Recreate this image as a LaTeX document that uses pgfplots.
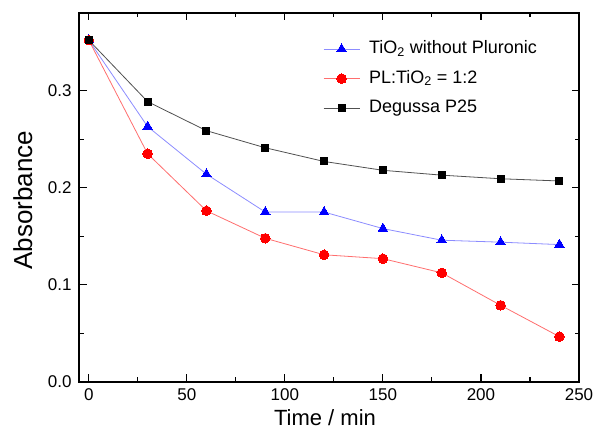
\documentclass[border=0pt]{standalone}
\usepackage{pgfplots}
\pgfplotsset{compat=1.18}
\usepackage{fontspec}
\setmainfont{Liberation Sans}
\definecolor{bluel}{RGB}{140,140,255}
\definecolor{bluem}{RGB}{0,0,255}
\definecolor{redl}{RGB}{255,110,110}
\definecolor{redm}{RGB}{255,0,0}
\definecolor{grayl}{RGB}{80,80,80}
\begin{document}
\begin{tikzpicture}
\begin{axis}[name=ax,
  scale only axis, width=500pt, height=369pt,
  xmin=-5, xmax=250, ymin=0, ymax=0.38,
  xtick={0,50,100,150,200,250},
  ytick={0,0.1,0.2,0.3},
  minor x tick num=1, minor y tick num=1,
  tick align=inside,
  major tick length=7.5pt, minor tick length=4.5pt,
  axis line style={line width=1.3pt},
  every tick/.style={line width=1.1pt, black},
  /pgf/number format/assume math mode=true,
  yticklabel style={/pgf/number format/fixed, /pgf/number format/fixed zerofill, /pgf/number format/precision=1, xshift=-4pt},
  xticklabel style={yshift=-3pt},
  tick label style={font=\fontsize{17}{17}\selectfont},
  scaled y ticks=false,
  xlabel={Time / min}, ylabel={Absorbance},
  every axis x label/.style={at={(axis description cs:0.492,-0.119)}, anchor=base, font=\fontsize{22}{22}\selectfont},
  every axis y label/.style={at={(axis description cs:-0.094,0.493)}, rotate=90, anchor=base, font=\fontsize{26}{26}\selectfont},
  legend cell align=left,
  legend image code/.code={\draw[mark repeat=2,mark phase=2] plot coordinates {(0pt,0pt)(18pt,0pt)(36pt,0pt)};},
  legend style={at={(rel axis cs:0.488,0.931)}, anchor=north west, draw=none, fill=none, inner sep=0pt,
    font=\fontsize{18}{18}\selectfont, column sep=7pt, row sep=8.5pt,
    nodes={inner sep=2pt, text height=13pt, text depth=4pt}},
]
\addplot[color=bluel, line width=0.8pt, mark=triangle*, mark size=5.5pt, mark options={fill=bluem, draw=bluem, line width=0pt}] coordinates {
(0,0.352) (30,0.263) (60,0.214) (90,0.175) (120,0.175) (150,0.158) (180,0.146) (210,0.144) (240,0.1415)};
\addlegendentry{TiO\textsubscript{2} without Pluronic}
\addplot[color=redl, line width=0.8pt, mark=*, mark size=4.8pt, mark options={fill=redm, draw=redm, line width=0pt}] coordinates {
(0,0.352) (30,0.235) (60,0.1763) (90,0.148) (120,0.131) (150,0.127) (180,0.1124) (210,0.079) (240,0.0467)};
\addlegendentry{PL:TiO\textsubscript{2} = 1:2}
\addplot[color=grayl, line width=0.8pt, mark=square*, mark size=3.5pt, mark options={fill=black, draw=black, line width=0pt}] coordinates {
(0,0.352) (30,0.2887) (60,0.2588) (90,0.2412) (120,0.2271) (150,0.218) (180,0.213) (210,0.2093) (240,0.207)};
\addlegendentry{Degussa P25}
\end{axis}
\pgfresetboundingbox
\path ([xshift=-79pt,yshift=-49pt]ax.south west) rectangle ([xshift=17pt,yshift=13pt]ax.north east);
\end{tikzpicture}
\end{document}
